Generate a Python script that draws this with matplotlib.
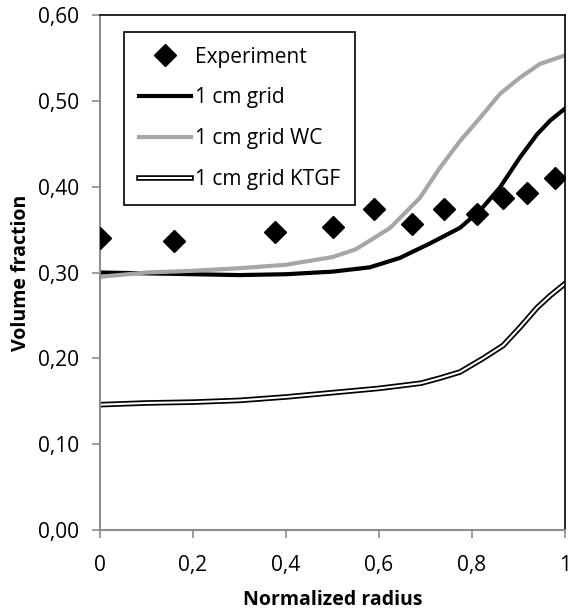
import numpy as np
import matplotlib
matplotlib.use("Agg")
import matplotlib.pyplot as plt
import matplotlib.patheffects as pe
from matplotlib.ticker import FuncFormatter

plt.rcParams['font.family'] = ['Open Sans', 'DejaVu Sans']

# measured profiles
exp_r = [0.0, 0.16, 0.376, 0.50, 0.59, 0.67, 0.74, 0.81, 0.867, 0.918, 0.978]
exp_vf = [0.340, 0.337, 0.347, 0.353, 0.374, 0.357, 0.374, 0.368, 0.387, 0.393, 0.410]

grid_r = [0.0, 0.1, 0.2, 0.3, 0.4, 0.5, 0.58, 0.645, 0.71, 0.774, 0.817, 0.86, 0.903, 0.94, 0.968, 1.0]
grid_vf = [0.300, 0.299, 0.298, 0.297, 0.298, 0.301, 0.306, 0.317, 0.334, 0.352, 0.372, 0.399, 0.434, 0.461, 0.477, 0.491]

wc_r = [0.0, 0.1, 0.2, 0.3, 0.4, 0.5, 0.55, 0.58, 0.624, 0.688, 0.731, 0.774, 0.817, 0.86, 0.903, 0.946, 1.0]
wc_vf = [0.295, 0.300, 0.302, 0.305, 0.309, 0.318, 0.327, 0.337, 0.352, 0.387, 0.422, 0.453, 0.480, 0.508, 0.527, 0.543, 0.553]

ktgf_r = [0.0, 0.1, 0.2, 0.3, 0.4, 0.5, 0.6, 0.69, 0.731, 0.774, 0.824, 0.867, 0.903, 0.94, 0.968, 1.0]
ktgf_vf = [0.146, 0.148, 0.149, 0.151, 0.155, 0.160, 0.165, 0.171, 0.177, 0.184, 0.200, 0.215, 0.236, 0.259, 0.273, 0.287]

fig = plt.figure(figsize=(5.69, 6.11), dpi=100)
ax = fig.add_axes([100 / 569, 81 / 611, 465 / 569, 515 / 611])

ax.plot(exp_r, exp_vf, 'D', color='black', markersize=11.5, label='Experiment', zorder=5)
ax.plot(grid_r, grid_vf, color='black', lw=3, label='1 cm grid', solid_joinstyle='round')
ax.plot(wc_r, wc_vf, color='#a6a6a6', lw=3, label='1 cm grid WC', solid_joinstyle='round')
ax.plot(ktgf_r, ktgf_vf, color='white', lw=1.5, label='1 cm grid KTGF',
        path_effects=[pe.Stroke(linewidth=4, foreground='black'), pe.Normal()])

ax.set_xlim(0, 1)
ax.set_ylim(0, 0.6)
ax.set_xticks(np.arange(0, 1.01, 0.2))
ax.set_yticks(np.arange(0, 0.61, 0.1))
ax.xaxis.set_major_formatter(FuncFormatter(lambda v, p: ('%g' % round(v, 1)).replace('.', ',')))
ax.yaxis.set_major_formatter(FuncFormatter(lambda v, p: ('%.2f' % v).replace('.', ',')))
ax.tick_params(direction='out', length=6, width=1.2, color='#8c8c8c', labelsize=15, pad=9)
ax.tick_params(axis='x', pad=12)

for s in ['left', 'bottom']:
    ax.spines[s].set_color('#8c8c8c')
    ax.spines[s].set_linewidth(1.5)
for s in ['top', 'right']:
    ax.spines[s].set_color('black')
    ax.spines[s].set_linewidth(1.2)

ax.set_xlabel('Normalized radius', fontsize=14, fontweight='bold', labelpad=10)
ax.set_ylabel('Volume fraction', fontsize=14, fontweight='bold', labelpad=5)

leg = ax.legend(loc='upper left', bbox_to_anchor=(24 / 465, 1 - 17 / 515), borderaxespad=0,
                fontsize=15, fancybox=False, edgecolor='black', framealpha=1, handlelength=2.5,
                handletextpad=0.2, labelspacing=0.95, borderpad=0.7)
leg.get_frame().set_linewidth(1.2)

fig.savefig('out.png', dpi=100)
